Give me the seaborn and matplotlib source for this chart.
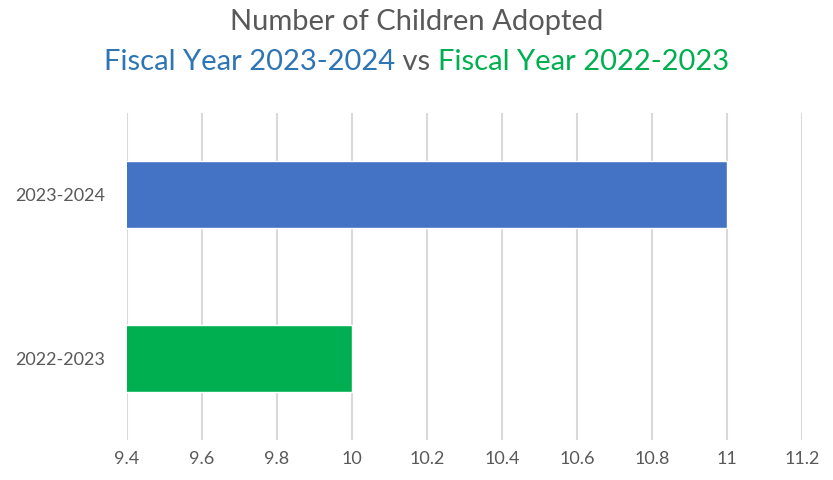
import matplotlib
matplotlib.use("Agg")
import matplotlib.pyplot as plt
import seaborn as sns
import pandas as pd

periods = ["2023-2024", "2022-2023"]
adopted = [11, 10]
bar_colors = ["#4472C4", "#00B050"]
x_ticks = [9.4, 9.6, 9.8, 10, 10.2, 10.4, 10.6, 10.8, 11, 11.2]
x_tick_labels = ["9.4", "9.6", "9.8", "10", "10.2", "10.4", "10.6", "10.8", "11", "11.2"]

sns.set_theme(style="white")
plt.rcParams["font.family"] = ["Lato", "DejaVu Sans"]

df = pd.DataFrame({"period": periods, "adopted": adopted})

fig = plt.figure(figsize=(8.33, 4.8), dpi=100)
ax = fig.add_axes([127 / 833, 40 / 480, 675 / 833, 327 / 480])

sns.barplot(data=df, x="adopted", y="period", hue="period", palette=bar_colors,
            orient="h", width=0.41, legend=False, ax=ax, saturation=1)

ax.set_xlim(9.4, 11.2)
ax.set_ylim(1.5, -0.5)
ax.set_xticks(x_ticks)
ax.set_xticklabels(x_tick_labels)
ax.grid(axis="x", color="#D9D9D9", linewidth=1.5)
ax.set_axisbelow(True)
for s in ax.spines.values():
    s.set_visible(False)
ax.tick_params(axis="both", length=0, labelsize=13, labelcolor="#595959")
ax.tick_params(axis="x", pad=8)
ax.tick_params(axis="y", pad=16)
ax.set_xlabel("")
ax.set_ylabel("")

fig.text(0.5, 1 - 22 / 480, "Number of Children Adopted", ha="center", va="center",
         fontsize=21, color="#595959")

# Second title line in three colours, laid out left to right
parts = [("Fiscal Year 2023-2024", "#2E75B6"), (" vs ", "#595959"), ("Fiscal Year 2022-2023", "#00B050")]
fig.canvas.draw()
renderer = fig.canvas.get_renderer()
texts = []
widths = []
for s, c in parts:
    t = fig.text(0, 1 - 62 / 480, s, ha="left", va="center", fontsize=21, color=c)
    bb = t.get_window_extent(renderer=renderer)
    texts.append(t)
    widths.append(bb.width)
total = sum(widths)
x0 = (fig.bbox.width - total) / 2
for t, w in zip(texts, widths):
    t.set_x(x0 / fig.bbox.width)
    x0 += w

fig.savefig("out.png", dpi=100, facecolor="white")
